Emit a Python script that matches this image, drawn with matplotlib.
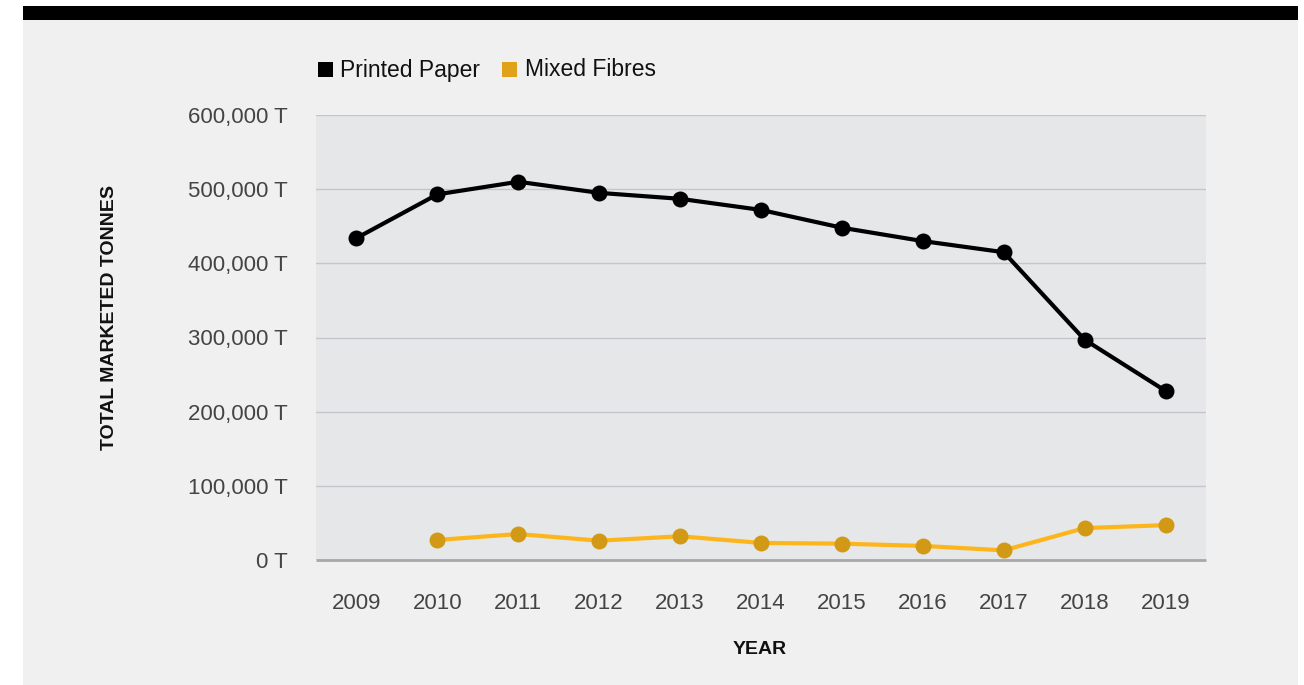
import matplotlib
matplotlib.use("Agg")
import matplotlib.pyplot as plt
from matplotlib.patches import Rectangle
from matplotlib.ticker import FuncFormatter

years = ["2009", "2010", "2011", "2012", "2013", "2014", "2015", "2016", "2017", "2018", "2019"]
printed_paper = [434000, 493000, 510000, 495000, 487000, 472000, 448000, 430000, 415000, 297000, 228000]
mixed_fibres = [None, 27000, 35000, 26000, 32000, 23000, 22000, 19000, 13000, 43000, 47000]
y_ticks = [0, 100000, 200000, 300000, 400000, 500000, 600000]

plt.rcParams["font.family"] = ["Liberation Sans", "DejaVu Sans"]

W, H = 1304, 685
fig = plt.figure(figsize=(W / 100, H / 100), dpi=100, facecolor="white")

# panel background and top bar
fig.patches.append(Rectangle((23 / W, 0), (1298 - 23) / W, (H - 20) / H,
                             transform=fig.transFigure, facecolor="#f0f0f0",
                             edgecolor="none", zorder=-10))
fig.patches.append(Rectangle((23 / W, (H - 20) / H), (1298 - 23) / W, 14 / H,
                             transform=fig.transFigure, facecolor="black",
                             edgecolor="none", zorder=-10))

ax = fig.add_axes([316 / W, 1 - 560 / H, (1206 - 316) / W, (560 - 115) / H])
ax.set_zorder(1)
ax.set_facecolor("#e6e7e9")

x = list(range(len(years)))
ax.plot(x, printed_paper, color="black", lw=3, marker="o", ms=11.5,
        markerfacecolor="black", markeredgewidth=0, zorder=3)
mx = [i for i, v in zip(x, mixed_fibres) if v is not None]
mv = [v for v in mixed_fibres if v is not None]
ax.plot(mx, mv, color="#fdb51c", lw=3, marker="o", ms=11.5,
        markerfacecolor="#d19915", markeredgewidth=0, zorder=3)

ax.set_xlim(-0.5, len(years) - 0.5)
ax.set_ylim(0, 600000)
ax.set_xticks(x)
ax.set_xticklabels(years)
ax.set_yticks(y_ticks)
ax.yaxis.set_major_formatter(FuncFormatter(lambda v, p: f"{int(v):,} T"))
ax.tick_params(axis="both", length=0, labelsize=16, labelcolor="#444444")
ax.tick_params(axis="x", pad=24)
ax.tick_params(axis="y", pad=20)
ax.grid(axis="y", color="#c6c6ca", lw=1)
ax.set_axisbelow(True)
for s in ["left", "right", "top"]:
    ax.spines[s].set_visible(False)
ax.spines["bottom"].set_color("#a8a8ac")
ax.spines["bottom"].set_linewidth(2)
ax.spines["bottom"].set_capstyle("butt")

fig.text(110 / W, 1 - 318 / H, "TOTAL MARKETED TONNES", rotation=90,
         ha="center", va="center", fontsize=14, fontweight="bold", color="#111111")
fig.text(760 / W, 1 - 650 / H, "YEAR", ha="center", va="center",
         fontsize=14, fontweight="bold", color="#111111")

# legend
legend_items = [("Printed Paper", "black", 318, 340), ("Mixed Fibres", "#e0a11b", 502, 525)]
for label, color, sx, tx in legend_items:
    fig.patches.append(Rectangle((sx / W, 1 - 77 / H), 15 / W, 15 / H,
                                 transform=fig.transFigure, facecolor=color,
                                 edgecolor="none"))
    fig.text(tx / W, 1 - 70 / H, label, ha="left", va="center",
             fontsize=16.5, color="#111111")

fig.savefig("out.png", dpi=100, facecolor=fig.get_facecolor())
